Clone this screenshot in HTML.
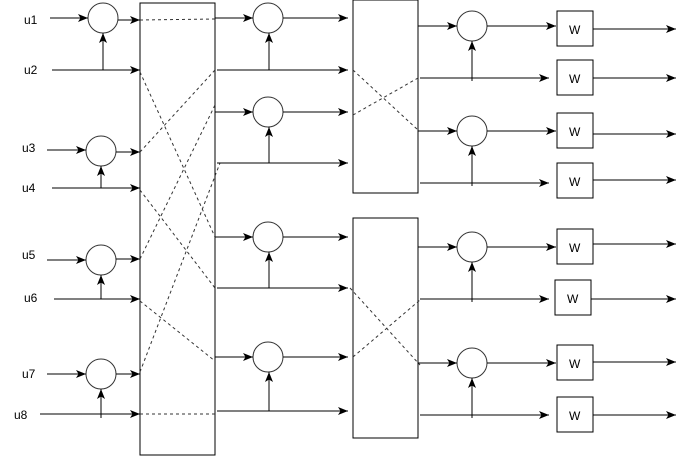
<!DOCTYPE html>
<html><head><meta charset="utf-8"><style>
html,body{margin:0;padding:0;background:#fff}
svg{display:block}
text{font-family:"Liberation Sans",sans-serif;font-size:12px;fill:#000}
</style></head><body>
<svg width="685" height="456" viewBox="0 0 685 456">
<defs><marker id="a" viewBox="0 0 10 8" refX="10" refY="4" markerWidth="10" markerHeight="8" markerUnits="userSpaceOnUse" orient="auto"><path d="M0,0 L10,4 L0,8 L2.5,4 z" fill="#000"/></marker></defs>
<g id="g" stroke="#000" stroke-width="1" fill="none"></g>
</svg>
<script>
const inputLabels=['u1','u2','u3','u4','u5','u6','u7','u8'];
const labelY=[24,74,152,192,259,302,378,419];
const svg=document.querySelector('svg'),g=document.getElementById('g');
const NS='http://www.w3.org/2000/svg';
function el(t,a){const e=document.createElementNS(NS,t);for(const k in a)e.setAttribute(k,a[k]);return e;}
function line(x1,y1,x2,y2,name,arrow,dash){const e=el('line',{x1,y1,x2,y2});if(arrow)e.setAttribute('marker-end','url(#a)');if(dash){e.setAttribute('stroke-dasharray','3,3');e.setAttribute('stroke','#333');}


g.appendChild(e);}
function circ(cx,cy,name){const e=el('circle',{cx,cy,r:15,stroke:'#333'});


g.appendChild(e);}
function rect(x,y,w,h,name){const e=el('rect',{x,y,width:w,height:h});


g.appendChild(e);}
function txt(x,y,s,name){const e=el('text',{x,y});e.textContent=s;


svg.appendChild(e);}
const lx=[24,24,22,22,22,24,22,14];
inputLabels.forEach((s,i)=>txt(lx[i],labelY[i],s,'label-'+s));
const c1=[[103,18],[101,151],[101,260],[101,374]];
const odd=[[50,18],[47,150],[47,260],[47,374]];
const evenY=[70,188,299,414],evenX=[52,52,54,40];
const outY1=[20,152,259,374];
c1.forEach((c,i)=>{circ(c[0],c[1],'stage1-adder-'+(i+1));
line(odd[i][0],odd[i][1],c[0]-15,odd[i][1],'input-arrow',true);
line(c[0]+15,outY1[i],140,outY1[i],'adder-output-arrow',true);
line(evenX[i],evenY[i],140,evenY[i],'input-arrow',true);
line(c[0],evenY[i]+(i==3?4:0),c[0],c[1]+15,'feed-arrow',true);});
rect(140,3,75,452,'permutation-box-1');
const d1=[[140,20,215,19],[140,72,215,237],[140,152,215,70],[140,190,215,288],[140,259,215,105],[140,301,215,361],[140,372,220,163],[140,414,215,414]];
d1.forEach(d=>line(...d,'permutation-wire',false,true));
const rows2=[18,70,112,163,237,288,357,411];
for(let i=0;i<4;i++){const y=rows2[2*i],y2=rows2[2*i+1];circ(268,y,'stage2-adder-'+(i+1));
line(215,y,253,y,'arrow',true);line(283,y,348,y,'arrow',true);
line(217,y2,348,y2,'arrow',true);line(269,y2,269,y+15,'feed-arrow',true);}
rect(353,0,65,193,'permutation-box-2');rect(353,218,65,220,'permutation-box-3');
[[353,70,418,130],[353,115,418,78],[350,288,420,365],[353,357,420,300]].forEach(d=>line(...d,'permutation-wire',false,true));
const rows3=[26,78,131,183,247,299,363,415];
for(let i=0;i<4;i++){const y=rows3[2*i],y2=rows3[2*i+1];circ(472,y,'stage3-adder-'+(i+1));
line(418,y,457,y,'arrow',true);line(487,y,556,y,'arrow',true);
line(420,y2,549,y2,'arrow',true);line(472,y2+3,472,y+15,'feed-arrow',true);}
const wb=[[557,11,29],[557,60,78],[557,113,134],[557,163,180],[557,229,244],[555,280,299],[557,345,362],[557,397,415]];
wb.forEach((b,i)=>{rect(b[0],b[1],36,35,'weight-box-'+(i+1));txt(b[0]+12,b[1]+23,'W','weight-label');line(b[0]+36,b[2],676,b[2],'output-arrow',true);});
</script>
</body></html>
